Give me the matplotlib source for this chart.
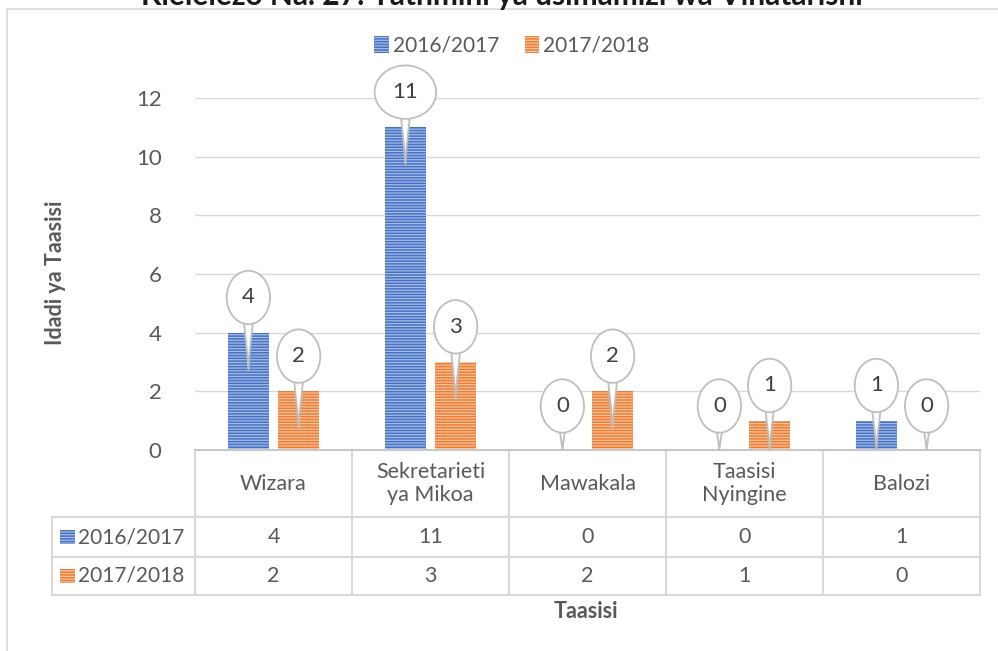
import numpy as np
import matplotlib.pyplot as plt
from matplotlib.patches import Rectangle
from matplotlib.lines import Line2D
import matplotlib.transforms as mtransforms

plt.rcParams['font.family'] = ['Lato', 'DejaVu Sans']
plt.rcParams['hatch.linewidth'] = 0.9

# data
categories = ['Wizara', 'Sekretarieti\nya Mikoa', 'Mawakala', 'Taasisi\nNyingine', 'Balozi']
series_names = ['2016/2017', '2017/2018']
vals_1617 = [4, 11, 0, 0, 1]
vals_1718 = [2, 3, 2, 1, 0]
yticks = [0, 2, 4, 6, 8, 10, 12]

title = 'Kielelezo Na. 27: Tathmini ya usimamizi wa Vihatarishi'
ylabel = 'Idadi ya Taasisi'
xlabel = 'Taasisi'

blue, blue_hatch = '#4472C4', '#a8bce6'
orange, orange_hatch = '#ED7D31', '#f6c3a0'
grey_txt = '#595959'
grid_c = '#d9d9d9'

W, H = 998, 651
fig = plt.figure(figsize=(W / 100, H / 100), dpi=100)

# outer chart frame (partly off the page like the source)
fig.patches.append(Rectangle((7 / W, -0.05), 1.1, 1.05 - 9 / H, transform=fig.transFigure,
                             fill=False, ec=grid_c, lw=1.2))
fig.text(0.503, 1 - 5 / H, title, ha='center', va='baseline', fontsize=21.5,
         fontweight='bold', color='#1a1a1a')

ax = fig.add_axes([195 / W, 1 - 450 / H, 785 / W, 352 / H])
x = np.arange(len(categories))
off, bw = 0.16, 0.26
b1 = ax.bar(x - off, vals_1617, bw, color=blue, edgecolor=blue_hatch, lw=0, hatch='-' * 6,
            label=series_names[0], zorder=2)
b2 = ax.bar(x + off, vals_1718, bw, color=orange, edgecolor=orange_hatch, lw=0, hatch='-' * 6,
            label=series_names[1], zorder=2)

ax.set_xlim(-0.5, len(categories) - 0.5)
ax.set_ylim(0, 12)
ax.set_yticks(yticks)
ax.set_xticks([])
ax.tick_params(axis='y', length=0, labelsize=16, labelcolor=grey_txt, pad=24)
ax.grid(axis='y', color=grid_c, lw=1, zorder=0)
ax.set_axisbelow(True)
for s in ['top', 'right', 'left']:
    ax.spines[s].set_visible(False)
ax.spines['bottom'].set_color('#c8c8c8')
ax.spines['bottom'].set_linewidth(1.5)

# callout bubbles
for xs, vals in [(x - off, vals_1617), (x + off, vals_1718)]:
    for xi, v in zip(xs, vals):
        tip = max(v - 1.25, 0)
        cy = max(v + 1.2, 1.5)
        ax.annotate(str(v), xy=(xi, tip), xytext=(xi, cy), textcoords='data',
                    ha='center', va='center', fontsize=16, color='#404040',
                    bbox=dict(boxstyle='ellipse,pad=0.4', fc='white', ec='#bfbfbf', lw=1.3),
                    arrowprops=dict(arrowstyle='wedge,tail_width=0.8,shrink_factor=0.4',
                                    fc='white', ec='#bfbfbf', lw=1.3, mutation_scale=14,
                                    patchA=None, shrinkA=0, shrinkB=0),
                    annotation_clip=False, zorder=4)

# data table under the axis
tr = mtransforms.blended_transform_factory(ax.transData, ax.transAxes)
ah = 352.0
y_hdr_bot = -67 / ah
y_r1_bot = -107 / ah
y_r2_bot = -145 / ah
x_lab_left = -0.5 - 143 / 157.0
lc = dict(color=grid_c, lw=1.5, clip_on=False)
for xb in np.arange(-0.5, len(categories), 1.0):
    ax.add_line(Line2D([xb, xb], [0, y_r2_bot], transform=tr, **lc))
ax.add_line(Line2D([x_lab_left, x_lab_left], [y_hdr_bot, y_r2_bot], transform=tr, **lc))
for yb in [y_hdr_bot, y_r1_bot, y_r2_bot]:
    ax.add_line(Line2D([x_lab_left, len(categories) - 0.5], [yb, yb], transform=tr, **lc))

for xi, c in zip(x, categories):
    ax.text(xi, (0 + y_hdr_bot) / 2, c, transform=tr, ha='center', va='center',
            fontsize=15.5, color=grey_txt, linespacing=1.2)
rows = [(series_names[0], vals_1617, blue, blue_hatch, (y_hdr_bot + y_r1_bot) / 2),
        (series_names[1], vals_1718, orange, orange_hatch, (y_r1_bot + y_r2_bot) / 2)]
for name, vals, col, hc, yc in rows:
    for xi, v in zip(x, vals):
        ax.text(xi, yc, str(v), transform=tr, ha='center', va='center',
                fontsize=15.5, color=grey_txt)
    ax.add_patch(Rectangle((x_lab_left + 8 / 157, yc - 7 / ah), 15 / 157, 14 / ah, transform=tr,
                           fc=col, ec=hc, lw=0, hatch='-' * 6, clip_on=False))
    ax.text(x_lab_left + 26 / 157, yc, name, transform=tr, ha='left', va='center',
            fontsize=15, color=grey_txt)

fig.text(586 / W, 1 - 612 / H, xlabel, ha='center', va='center', fontsize=15.5,
         fontweight='bold', color=grey_txt)
fig.text(55 / W, 1 - 273 / H, ylabel, ha='center', va='center', rotation=90,
         fontsize=15.5, fontweight='bold', color=grey_txt)

fig.legend(handles=[b1, b2], loc='center', bbox_to_anchor=(512 / W, 1 - 46 / H), ncol=2,
           frameon=False, fontsize=15, labelcolor=grey_txt, handlelength=0.7,
           handleheight=0.9, handletextpad=0.2, columnspacing=1.2)

fig.savefig('out.png', dpi=100)
